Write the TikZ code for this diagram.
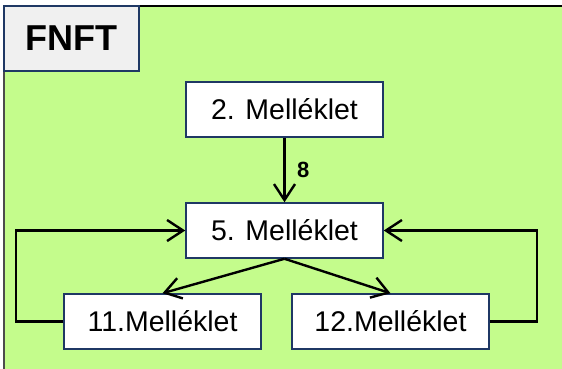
\documentclass[tikz,border=0pt]{standalone}
\usepackage{fontspec}
\setmainfont{Liberation Sans}
\usetikzlibrary{arrows.meta}
\definecolor{bggreen}{RGB}{196,252,140}
\definecolor{boxline}{RGB}{31,56,100}
\definecolor{titlefill}{RGB}{240,240,240}
\tikzset{
  mbox/.style={draw=boxline, line width=1.5pt, fill=white, minimum width=197pt, minimum height=55pt, inner sep=0pt, font=\fontsize{28.5}{32}\selectfont},
  titlebox/.style={draw=boxline, line width=1.5pt, fill=titlefill, minimum width=135pt, minimum height=65pt, inner sep=0pt, font=\fontsize{36}{40}\selectfont\bfseries},
  conn/.style={line width=2.4pt, -{Straight Barb[length=16pt, width=21pt, line width=2.4pt]}}
}
\begin{document}
\begin{tikzpicture}[x=1pt,y=-1pt]
\useasboundingbox (0,0) rectangle (562,368);
\fill[bggreen] (4,6) rectangle (563,369);
\draw[line width=2.5pt] (3,6) -- (563,6);
\draw[line width=1.5pt, black!70] (4,6) -- (4,369);
\node[titlebox] (fnft) at (71.5,38.5) {FNFT};
\node[mbox] (m2) at (284.5,109.5) {2. Melléklet};
\node[mbox] (m5) at (284.5,230.5) {5. Melléklet};
\node[mbox] (m11) at (162.5,321.5) {11.Melléklet};
\node[mbox] (m12) at (390.5,321.5) {12.Melléklet};
\draw[conn] (m2.south) -- node[right=8pt, font=\fontsize{22}{26}\selectfont\bfseries] {8} (m5.north);
\draw[conn] (m5.south) -- (m11.north);
\draw[conn] (m5.south) -- (m12.north);
\draw[conn] (m11.west) -- ++(-47,0) |- (m5.west);
\draw[conn] (m12.east) -- ++(47,0) |- (m5.east);
\end{tikzpicture}
\end{document}
